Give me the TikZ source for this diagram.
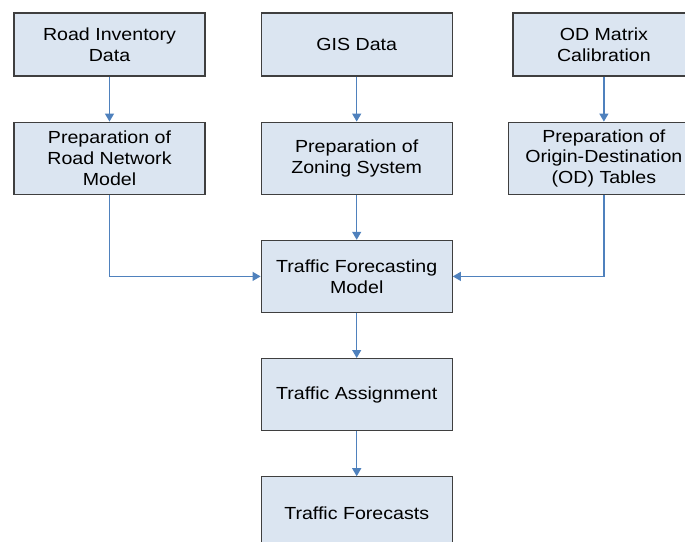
\documentclass[tikz,border=0pt]{standalone}
\usepackage{fontspec}
\setmainfont{Liberation Sans}[FakeStretch=1.12]
\usepackage{tikz}
\usetikzlibrary{arrows.meta, positioning}

\definecolor{boxfill}{HTML}{DBE5F1}
\definecolor{boxline}{HTML}{3F3F3F}
\definecolor{flowblue}{HTML}{4F81BD}

\begin{document}
\begin{tikzpicture}[x=1pt, y=1pt, node distance=45pt and 55pt]
	\tikzstyle{process} = [rectangle, minimum width=191pt, minimum height=72pt, 
	text centered, align=center, draw=boxline, line width=1.2pt, fill=boxfill, 
	font=\fontsize{17.5}{20.7}\selectfont, inner sep=2pt]
	\tikzstyle{source} = [process, minimum height=63pt]
	\tikzstyle{arrow} = [draw=flowblue, line width=1.2pt, 
	-{Triangle[length=8pt, width=9pt]}]
	\useasboundingbox (0,0) rectangle (685,-541);
	\clip (0,0) rectangle (685,-541);
	\node (roadInventory) [source] at (109.5,-44.5) {Road Inventory\\Data};
	\node (gisData) [source, right=of roadInventory] {GIS Data};
	\node (roadNetwork) [process, below=of roadInventory] {Preparation of\\Road Network\\Model};
	\node (zoningSystem) [process, below=of gisData] {Preparation of\\Zoning System};
	\node (odTables) [process, right=of zoningSystem] {Preparation of\\Origin-Destination\\(OD) Tables};
	\node (odMatrix) [source, minimum width=182pt, above=of odTables] {OD Matrix\\Calibration};
	\node (forecastModel) [process, below=of zoningSystem] {Traffic Forecasting\\Model};
	\node (assignment) [process, below=of forecastModel] {Traffic Assignment};
	\node (forecasts) [process, below=of assignment] {Traffic Forecasts};
	\draw [arrow] (roadInventory) -- (roadNetwork);
	\draw [arrow] (gisData) -- (zoningSystem);
	\draw [arrow] (odMatrix) -- (odTables);
	\draw [arrow] (zoningSystem) -- (forecastModel);
	\draw [arrow] (roadNetwork) |- (forecastModel);
	\draw [arrow] (odTables) |- (forecastModel);
	\draw [arrow] (forecastModel) -- (assignment);
	\draw [arrow] (assignment) -- (forecasts);
\end{tikzpicture}
\end{document}
